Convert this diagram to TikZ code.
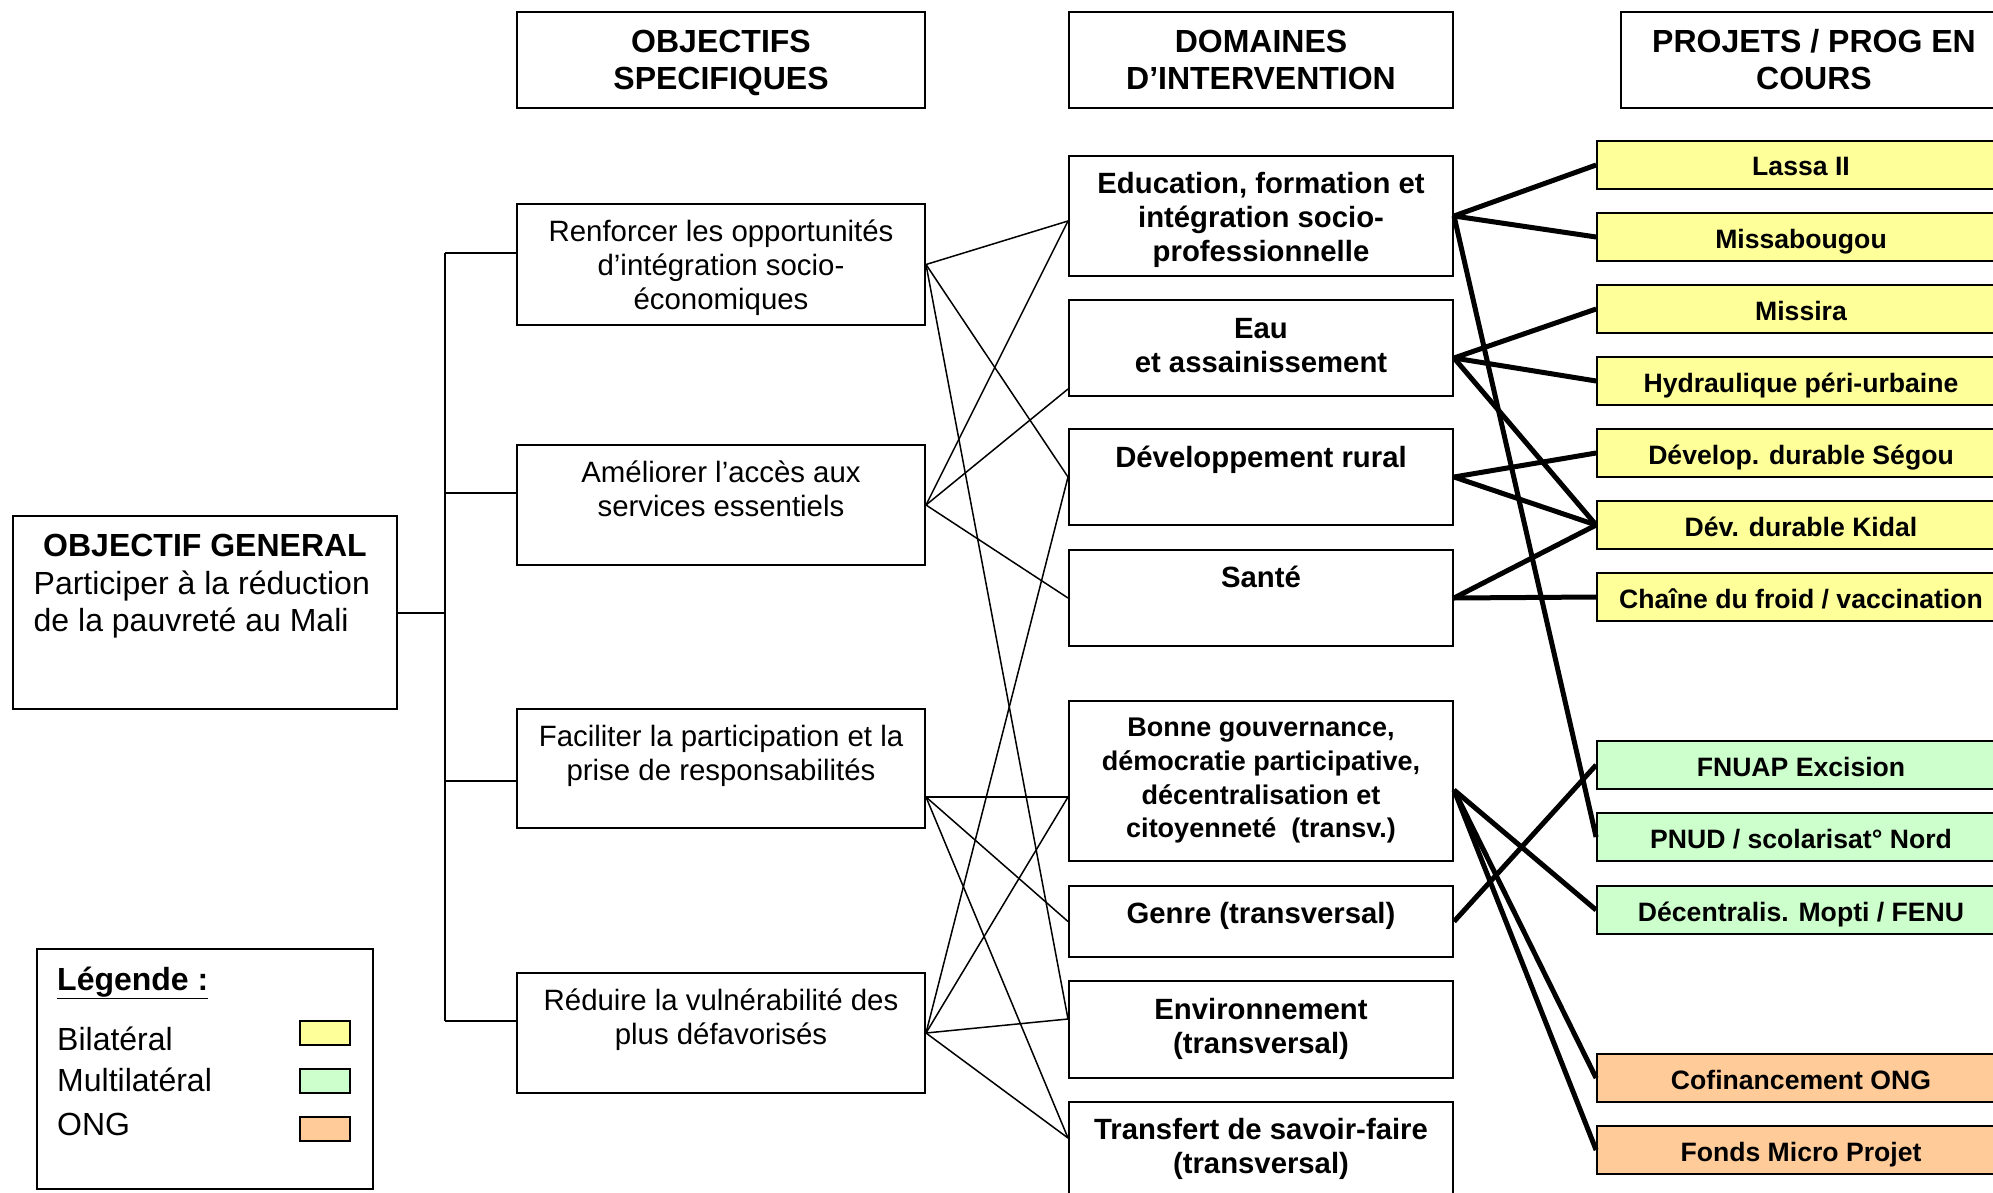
\documentclass[tikz,border=0pt]{standalone}
\usepackage{fontspec}
\setmainfont{Liberation Sans}
\usetikzlibrary{positioning}
\definecolor{bilatjaune}{HTML}{FFFF99}
\definecolor{multivert}{HTML}{CCFFCC}
\definecolor{ongorange}{HTML}{FFCC99}

\begin{document}
\begin{tikzpicture}[x=1pt,y=-1pt,
        cadre/.style={draw, line width=2pt, inner sep=0pt},
        objbox/.style={cadre, minimum width=408pt},
        dombox/.style={cadre, minimum width=384pt},
        entete/.style={cadre, minimum height=96pt, align=center, font=\fontsize{32}{37}\selectfont\bfseries},
        projbox/.style={draw, line width=1.8pt, minimum width=408pt, minimum height=48pt, inner sep=0pt,
            text height=24pt, text depth=2pt, font=\fontsize{26.6}{31}\selectfont\bfseries},
        objtxt/.style={align=center, inner sep=0pt, font=\fontsize{29.4}{34}\selectfont},
        domtxt/.style={align=center, inner sep=0pt, font=\fontsize{29.3}{34}\selectfont\bfseries},
        legtxt/.style={anchor=base west, inner sep=0pt, font=\fontsize{32}{37}\selectfont},
        swatch/.style={draw, line width=2pt, minimum width=50pt, minimum height=24pt, inner sep=0pt},
        trait/.style={line width=2pt},
        lien/.style={line width=1.5pt},
        lienfort/.style={line width=5pt}]
        \useasboundingbox (0,0) rectangle (1993,1193);
        \clip (0,0) rectangle (1993,1193);

        % en-tetes
        \node[entete, minimum width=408pt] (h-obj) at (721,60) {OBJECTIFS\\\raisebox{0pt}[\height][0pt]{SPECIFIQUES}};
        \node[entete, minimum width=384pt] (h-dom) at (1261,60) {DOMAINES\\D’INTERVENTION};
        \node[entete, minimum width=386pt] (h-proj) at (1814,60) {PROJETS / PROG EN\\COURS};

        % objectif general
        \node[cadre, minimum width=384pt, minimum height=193pt] (og) at (205,612.5) {};
        \node[inner sep=0pt, font=\fontsize{32}{37}\selectfont\bfseries, below=19pt of og.north] (og-t) {OBJECTIF GENERAL};
        \node[inner sep=0pt, align=left, font=\fontsize{32}{37}\selectfont, below right=56pt and 21.5pt of og.north west] (og-b)
            {Participer à la réduction\\de la pauvreté au Mali};

        % objectifs specifiques
        \node[objbox, minimum height=121pt] (renf) at (721,264.5) {};
        \node[objbox, minimum height=120pt] (amel) at (721,505) {};
        \node[objbox, minimum height=119pt] (facil) at (721,768.5) {};
        \node[objbox, minimum height=120pt] (reduire) at (721,1033) {};
        \node[objtxt, below=17pt of renf.north] (renf-t) {Renforcer les opportunités\\d’intégration socio-\\économiques};
        \node[objtxt, below=17pt of amel.north] (amel-t) {Améliorer l’accès aux\\services essentiels};
        \node[objtxt, below=17pt of facil.north] (facil-t) {Faciliter la participation et la\\prise de responsabilités};
        \node[objtxt, below=17pt of reduire.north] (reduire-t) {Réduire la vulnérabilité des\\plus défavorisés};

        % arborescence
        \coordinate (epine-h) at (445,253);
        \coordinate (epine-b) at (445,1021);
        \draw[trait] (epine-h) -- (epine-b);
        \draw[trait] (og.east) -- (og.east -| epine-h);
        \draw[trait] (epine-h) -- (epine-h -| renf.west);
        \draw[trait] (epine-b) -- (epine-b -| reduire.west);
        \draw[trait] ([yshift=12.5]amel.west) -- +(-72,0);
        \draw[trait] ([yshift=-12]facil.west) -- +(-72,0);

        % domaines d'intervention
        \node[dombox, minimum height=120pt] (educ) at (1261,216) {};
        \node[dombox, minimum height=96pt] (eau) at (1261,348) {};
        \node[dombox, minimum height=96pt] (rural) at (1261,477) {};
        \node[dombox, minimum height=96pt] (sante) at (1261,598) {};
        \node[dombox, minimum height=160pt] (gouv) at (1261,781) {};
        \node[dombox, minimum height=71pt] (genre) at (1261,921.5) {};
        \node[dombox, minimum height=97pt] (envir) at (1261,1029.5) {};
        \node[dombox, minimum height=96pt] (transf) at (1261,1150) {};
        \node[domtxt, below=17pt of educ.north] (educ-t) {Education, formation et\\intégration socio-\\professionnelle};
        \node[domtxt, below=19pt of eau.north] (eau-t) {Eau\\et assainissement};
        \node[domtxt, below=18pt of rural.north] (rural-t) {Développement rural};
        \node[domtxt, below=17pt of sante.north] (sante-t) {Santé};
        \node[domtxt, font=\fontsize{27}{33.7}\selectfont\bfseries, below=18pt of gouv.north] (gouv-t)
            {Bonne gouvernance,\\démocratie participative,\\décentralisation et\\citoyenneté~ (transv.)};
        \node[domtxt, below=17pt of genre.north] (genre-t) {Genre (transversal)};
        \node[domtxt, below=18pt of envir.north] (envir-t) {Environnement\\(transversal)};
        \node[domtxt, below=17pt of transf.north] (transf-t) {Transfert de savoir-faire\\(transversal)};

        % projets
        \node[projbox, fill=bilatjaune] (lassa) at (1801,165) {Lassa II};
        \node[projbox, fill=bilatjaune] (missab) at (1801,237) {Missabougou};
        \node[projbox, fill=bilatjaune] (missira) at (1801,309) {Missira};
        \node[projbox, fill=bilatjaune] (hydrau) at (1801,381) {Hydraulique péri-urbaine};
        \node[projbox, fill=bilatjaune] (segou) at (1801,453) {Dévelop. durable Ségou};
        \node[projbox, fill=bilatjaune] (kidal) at (1801,525) {Dév. durable Kidal};
        \node[projbox, fill=bilatjaune] (chaine) at (1801,597) {Chaîne du froid / vaccination};
        \node[projbox, fill=multivert] (fnuap) at (1801,765) {FNUAP Excision};
        \node[projbox, fill=multivert] (pnud) at (1801,837) {PNUD / scolarisat° Nord};
        \node[projbox, fill=multivert] (decentr) at (1801,910) {Décentralis. Mopti / FENU};
        \node[projbox, fill=ongorange] (cofin) at (1801,1078) {Cofinancement ONG};
        \node[projbox, fill=ongorange] (fonds) at (1801,1150) {Fonds Micro Projet};

        % liens objectifs -> domaines
        \coordinate (facil-d) at ([yshift=-28.5]facil.east);
        \coordinate (educ-g) at ([yshift=-5]educ.west);
        \coordinate (eau-g) at ([yshift=-41]eau.west);
        \coordinate (gouv-g) at ([yshift=-16]gouv.west);
        \coordinate (envir-g) at ([yshift=10.5]envir.west);
        \coordinate (transf-g) at ([yshift=12]transf.west);
        \foreach \a/\b in {renf.east/educ-g, renf.east/rural.west, renf.east/envir-g,
                amel.east/educ-g, amel.east/eau-g, amel.east/sante.west,
                facil-d/gouv-g, facil-d/genre.west, facil-d/transf-g,
                reduire.east/rural.west, reduire.east/gouv-g, reduire.east/envir-g, reduire.east/transf-g}
            \draw[lien] (\a) -- (\b);

        % liens domaines -> projets
        \coordinate (eau-d) at ([yshift=-10]eau.east);
        \coordinate (gouv-d) at ([yshift=-9]gouv.east);
        \foreach \a/\b in {educ.east/lassa.west, educ.east/missab.west, educ.east/pnud.west,
                eau-d/missira.west, eau-d/hydrau.west, eau-d/kidal.west,
                rural.east/segou.west, rural.east/kidal.west,
                sante.east/chaine.west, sante.east/kidal.west,
                gouv-d/decentr.west, gouv-d/cofin.west, gouv-d/fonds.west,
                genre.east/fnuap.west}
            \draw[lienfort] (\a) -- (\b);

        % legende
        \node[cadre, minimum width=336pt, minimum height=240pt] (legende) at (205,1069) {};
        \node[legtxt, font=\fontsize{32}{37}\selectfont\bfseries] (leg-t) at (57,990.5) {\underline{Légende :}};
        \node[legtxt] (leg-bi) at (57,1050.5) {Bilatéral};
        \node[legtxt] (leg-mu) at (57,1091.5) {Multilatéral};
        \node[legtxt] (leg-ong) at (57,1135.5) {ONG};
        \node[swatch, fill=bilatjaune] (sw-bi) at (325,1033) {};
        \node[swatch, fill=multivert] (sw-mu) at (325,1081) {};
        \node[swatch, fill=ongorange] (sw-ong) at (325,1129) {};
    \end{tikzpicture}
\end{document}
